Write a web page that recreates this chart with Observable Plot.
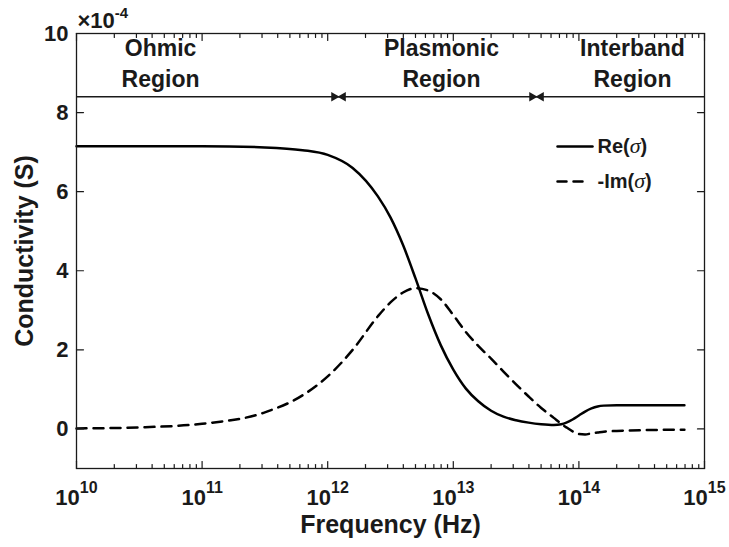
<!DOCTYPE html>
<html><head><meta charset="utf-8">
<script src="https://cdn.jsdelivr.net/npm/d3@7"></script>
<script src="https://cdn.jsdelivr.net/npm/@observablehq/plot@0.6"></script>
<style>
body{margin:0;background:#fff}
svg{font-family:"Liberation Sans",Arial,Helvetica,sans-serif}
</style>
</head><body><div id="chart"></div>
<script>
// Frequency samples (Hz)
const frequency = [1e10, 3.16e10, 1e11, 3.16e11, 6.31e11, 1e12, 1.58e12, 2.51e12, 3.16e12, 3.98e12,
  5.01e12, 6.31e12, 7.94e12, 1e13, 1.26e13, 1.58e13, 2e13, 2.51e13, 3.16e13, 3.98e13,
  5.01e13, 6.31e13, 7.24e13, 7.94e13, 8.91e13, 1e14, 1.12e14, 1.26e14, 1.41e14, 1.58e14,
  2e14, 3.16e14, 6.92e14];
// Re(sigma) in units of 1e-4 S
const reSigma = [7.15, 7.15, 7.15, 7.12, 7.05, 6.93, 6.6, 5.88, 5.35, 4.65,
  3.8, 2.9, 2.12, 1.5, 1.02, 0.7, 0.46, 0.31, 0.22, 0.16,
  0.12, 0.1, 0.12, 0.16, 0.24, 0.34, 0.44, 0.52, 0.57, 0.59,
  0.6, 0.6, 0.6];
// -Im(sigma) in units of 1e-4 S
const negImSigma = [0.013, 0.04, 0.13, 0.42, 0.85, 1.33, 2.0, 2.85, 3.2, 3.45,
  3.56, 3.5, 3.28, 2.88, 2.45, 2.1, 1.78, 1.45, 1.13, 0.82,
  0.53, 0.28, 0.13, 0.04, -0.06, -0.13, -0.14, -0.11, -0.09, -0.07,
  -0.05, -0.03, -0.02];

const xTicks = [1e10, 1e11, 1e12, 1e13, 1e14, 1e15];
const yTicks = [0, 2, 4, 6, 8, 10];
const regionBounds = [1.22e12, 4.6e13];
const regionLabels = ["Ohmic\nRegion", "Plasmonic\nRegion", "Interband\nRegion"];
const regionLabelX = [4.67e10, 8.05e12, 2.67e14];
const regionArrowY = [8.4];
const legendLabels = ["Re(σ)", "-Im(σ)"];
const scaleLabel = "×10^-4";
const xTitle = "Frequency (Hz)";
const yTitle = "Conductivity (S)";

const data = frequency.map((f, i) => ({f, re: reSigma[i], im: negImSigma[i]}));
const minorTicks = [];
for (let d = 10; d < 15; d++) for (let m = 2; m <= 9; m++) minorTicks.push(m * Math.pow(10, d));

const tickShape = {draw(ctx, l) { ctx.moveTo(0, 0); ctx.lineTo(0, -l); }};
const ink = "#1a1a1a";
const tickOpts = {shape: tickShape, anchor: "start", stroke: ink, strokeWidth: 1.2};

const plot = Plot.plot({
  width: 729, height: 547,
  marginLeft: 76, marginRight: 25, marginTop: 33, marginBottom: 79,
  x: {type: "log", domain: [1e10, 1e15]},
  y: {domain: [-1, 10]},
  style: {background: "white", color: "black"},
  marks: [
    // curves
    Plot.line(data, {x: "f", y: "re", stroke: "black", strokeWidth: 2.5, curve: "monotone-x"}),
    Plot.line(data, {x: "f", y: "im", stroke: "black", strokeWidth: 2.5, strokeDasharray: "10,7", curve: "monotone-x"}),
    // region divider line and arrow heads
    Plot.ruleY(regionArrowY, {stroke: ink, strokeWidth: 1.6}),
    Plot.dot(regionBounds, {x: d => d, y: () => regionArrowY[0], symbol: "triangle2", rotate: 90, r: 4.6, dx: -4.5, fill: ink, stroke: "none"}),
    Plot.dot(regionBounds, {x: d => d, y: () => regionArrowY[0], symbol: "triangle2", rotate: -90, r: 4.6, dx: 4.5, fill: ink, stroke: "none"}),
    Plot.text(regionLabels, {x: regionLabelX, text: d => d, frameAnchor: "top", dy: 0, textAnchor: "middle", lineAnchor: "top", lineHeight: 31 / 23, fontSize: 23, fontWeight: "bold", fill: ink}),
    // frame and inward ticks
    Plot.frame({stroke: ink, strokeWidth: 1.3}),
    Plot.vector(xTicks, {x: d => d, frameAnchor: "bottom", rotate: 0, length: 7, ...tickOpts}),
    Plot.vector(xTicks, {x: d => d, frameAnchor: "top", rotate: 180, length: 7, ...tickOpts}),
    Plot.vector(minorTicks, {x: d => d, frameAnchor: "bottom", rotate: 0, length: 4, ...tickOpts}),
    Plot.vector(minorTicks, {x: d => d, frameAnchor: "top", rotate: 180, length: 4, ...tickOpts}),
    Plot.vector(yTicks, {y: d => d, frameAnchor: "left", rotate: 90, length: 7, ...tickOpts}),
    Plot.vector(yTicks, {y: d => d, frameAnchor: "right", rotate: -90, length: 7, ...tickOpts}),
    // axis tick labels
    Plot.axisX({ticks: xTicks, anchor: "bottom", tickSize: 0, tickPadding: 21, label: null,
      tickFormat: d => "10^" + Math.round(Math.log10(d)), fontSize: 22, fontWeight: "bold", fill: ink}),
    Plot.axisY({ticks: yTicks, anchor: "left", tickSize: 0, tickPadding: 8, label: null,
      tickFormat: d => String(d), fontSize: 22, fontWeight: "bold", fill: ink}),
    // scale factor shown as a top-axis annotation at the first decade
    Plot.axisX({ticks: [xTicks[0]], anchor: "top", tickSize: 0, tickPadding: 6, label: null,
      tickFormat: () => scaleLabel, textAnchor: "start", dx: 1, fontSize: 22, fontWeight: "bold", fill: ink}),
    // axis titles
    Plot.text([xTitle], {text: d => d, frameAnchor: "bottom", dy: 56, textAnchor: "middle", lineAnchor: "middle", fontSize: 25, fontWeight: "bold", fill: ink}),
    Plot.text([yTitle], {text: d => d, frameAnchor: "left", rotate: -90, dx: -52, textAnchor: "middle", lineAnchor: "middle", fontSize: 25, fontWeight: "bold", fill: ink}),
    // legend
    Plot.vector([0], {frameAnchor: "top-right", dx: -147, dy: 113, rotate: 90, length: 35, shape: tickShape, anchor: "start", stroke: "black", strokeWidth: 2.5}),
    Plot.vector([0], {frameAnchor: "top-right", dx: -147, dy: 148, rotate: 90, length: 26, shape: tickShape, anchor: "start", stroke: "black", strokeWidth: 2.5, strokeDasharray: "9,7"}),
    Plot.text([legendLabels[0]], {text: d => d, frameAnchor: "top-right", dx: -107, dy: 113, textAnchor: "start", lineAnchor: "middle", fontSize: 20, fontWeight: "bold", fill: ink}),
    Plot.text([legendLabels[1]], {text: d => d, frameAnchor: "top-right", dx: -107, dy: 148, textAnchor: "start", lineAnchor: "middle", fontSize: 20, fontWeight: "bold", fill: ink})
  ]
});

// post-process: superscripts and italic sigma
d3.select(plot).selectAll("text").each(function () {
  const s = this.textContent;
  const t = d3.select(this);
  if (s.includes("^")) {
    const [base, sup] = s.split("^");
    const isScale = base.includes("×");
    t.text(base);
    t.append("tspan").attr("dy", isScale ? -10 : -12).attr("font-size", isScale ? 15 : 16).text(sup);
  } else if (s.includes("σ")) {
    const [a, b] = s.split("σ");
    t.text(a);
    t.append("tspan").attr("font-style", "italic").attr("font-weight", "normal")
      .attr("font-family", "'Liberation Serif', serif").attr("font-size", 22).text("σ");
    t.append("tspan").text(b);
  }
});

document.getElementById("chart").appendChild(plot);
</script>
</body></html>
